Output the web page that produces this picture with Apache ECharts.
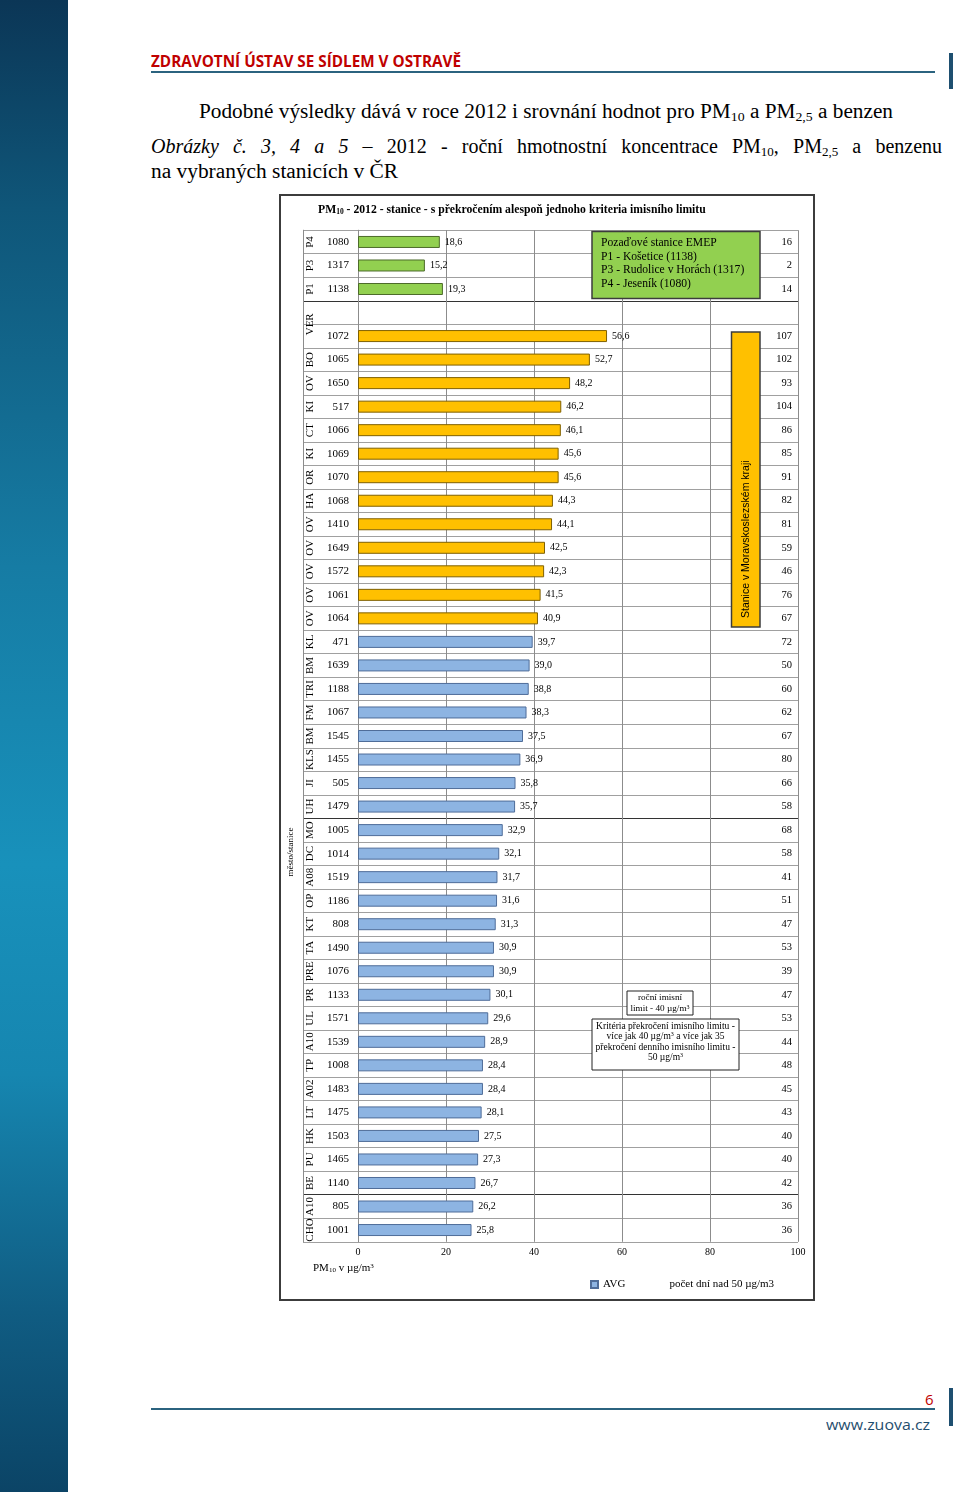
<!DOCTYPE html>
<html><head><meta charset="utf-8">
<script src="https://cdn.jsdelivr.net/npm/echarts@6/dist/echarts.min.js"></script>
<style>
html,body{margin:0;padding:0;width:960px;height:1492px;background:#fff;overflow:hidden;position:relative;font-family:'Liberation Serif','Times New Roman',serif;}
#side{position:absolute;left:0;top:0;width:68px;height:1492px;background:linear-gradient(to bottom,#0b3656 0%,#0f5679 14%,#167ca4 38%,#1891bb 58%,#1686b0 72%,#105c82 88%,#0b4466 100%);}
.abs{position:absolute;white-space:nowrap;transform-origin:left top;}
#hdr{left:151px;top:51px;font-family:'Open Sans',sans-serif;font-weight:bold;font-size:15.5px;line-height:20px;color:#c00000;}
#hline{position:absolute;left:151px;top:71px;width:784px;height:2px;background:#2b637f;}
#fline{position:absolute;left:151px;top:1408px;width:784px;height:2px;background:#2b637f;}
.vbar{position:absolute;left:949px;width:4px;background:#1e4f70;}
#p1{left:199px;top:99px;font-size:20px;line-height:24px;}
#p2{left:151px;top:134px;width:791px;font-size:20px;line-height:24px;text-align:justify;text-align-last:justify;white-space:normal;}
#p3{left:151px;top:159px;font-size:20px;line-height:24px;}
sub{font-size:13px;vertical-align:-3px;line-height:0;}
#pg{left:925px;top:1389px;font-family:'Open Sans',sans-serif;font-size:15px;line-height:20px;color:#c00000;}
#www{left:826px;top:1415px;font-family:'Open Sans',sans-serif;font-size:14px;line-height:20px;color:#1f4e6e;}
#chart{position:absolute;left:279px;top:194px;width:536px;height:1107px;}
</style></head>
<body>
<div id="side"></div>
<div id="hdr" class="abs">ZDRAVOTNÍ ÚSTAV SE SÍDLEM V OSTRAVĚ</div>
<div id="hline"></div>
<div class="vbar" style="top:53px;height:36px;"></div>
<div id="p1" class="abs">Podobné výsledky dává v roce 2012 i srovnání hodnot pro PM<sub>10</sub> a PM<sub>2,5</sub> a benzen</div>
<div id="p2" class="abs"><i>Obrázky č. 3, 4 a 5</i> – 2012 - roční hmotnostní koncentrace PM<sub>10</sub>, PM<sub>2,5</sub> a benzenu</div>
<div id="p3" class="abs">na vybraných stanicích v ČR</div>
<div id="chart"></div>
<div id="pg" class="abs">6</div>
<div id="fline"></div>
<div class="vbar" style="top:1388px;height:38px;"></div>
<div id="www" class="abs">www.zuova.cz</div>
<script>
// ---- data ----
const stationIds = ['1080','1317','1138','','1072','1065','1650','517','1066','1069','1070','1068','1410','1649','1572','1061','1064','471','1639','1188','1067','1545','1455','505','1479','1005','1014','1519','1186','808','1490','1076','1133','1571','1539','1008','1483','1475','1503','1465','1140','805','1001'];
const cityCodes = ['P4','P3','P1','VER','','BO','OV','KI','CT','KI','OR','HA','OV','OV','OV','OV','OV','KL','BM','TRI','FM','BM','KLS','JI','UH','MO','DC','A08','OP','KT','TA','PRE','PR','UL','A10','TP','A02','LT','HK','PU','BE','A10','CHO'];
const avgValues = [18.6,15.2,19.3,null,56.6,52.7,48.2,46.2,46.1,45.6,45.6,44.3,44.1,42.5,42.3,41.5,40.9,39.7,39.0,38.8,38.3,37.5,36.9,35.8,35.7,32.9,32.1,31.7,31.6,31.3,30.9,30.9,30.1,29.6,28.9,28.4,28.4,28.1,27.5,27.3,26.7,26.2,25.8];
const daysOver50 = [16,2,14,null,107,102,93,104,86,85,91,82,81,59,46,76,67,72,50,60,62,67,80,66,58,68,58,41,51,47,53,39,47,53,44,48,45,43,40,40,42,36,36];
const stationGroup = ['bg','bg','bg','','ms','ms','ms','ms','ms','ms','ms','ms','ms','ms','ms','ms','ms','cz','cz','cz','cz','cz','cz','cz','cz','cz','cz','cz','cz','cz','cz','cz','cz','cz','cz','cz','cz','cz','cz','cz','cz','cz','cz'];
const xTicks = [0, 20, 40, 60, 80, 100];
const darkBoundaries = [3, 25, 41];

// ---- page text fitting ----
function fitX(id, w){ const el=document.getElementById(id); el.style.transform=''; const r=el.getBoundingClientRect().width; el.style.transform='scaleX('+(w/r)+')'; }
function fitAll(){ fitX('hdr',310); fitX('p1',694); fitX('p3',247); fitX('www',104); }
fitAll();

// ---- chart ----
const SERIF = "'Liberation Serif','Times New Roman',serif";
const groupFill = {bg:'#92D050', ms:'#FFC000', cz:'#8DB4E2'};
const groupBorder = {bg:'#4d6b2a', ms:'#7f6000', cz:'#4F6D99'};
const lineColors = [];
for (let i = 0; i <= stationIds.length; i++) lineColors.push(darkBoundaries.indexOf(i) >= 0 ? '#333333' : '#a0a0a0');

const gTop = 36.2, gH = 1011.6;
const chart = echarts.init(document.getElementById('chart'));
const option = {
  animation: false,
  textStyle: {fontFamily: SERIF},
  grid: [
    {left: 24, top: gTop, width: 55, height: gH},
    {left: 79, top: gTop, width: 440, height: gH}
  ],
  xAxis: [
    {gridIndex: 1, type: 'value', min: xTicks[0], max: xTicks[xTicks.length-1], interval: 20,
     axisLine: {show: false}, axisTick: {show: false},
     axisLabel: {fontFamily: SERIF, fontSize: 10, color: '#000', margin: 6},
     splitLine: {show: true, lineStyle: {color: '#8c8c8c', width: 1}}},
    {gridIndex: 1, type: 'value', min: 0, max: 100, show: false},
    {gridIndex: 0, type: 'value', min: 0, max: 1, show: false}
  ],
  yAxis: [
    {gridIndex: 1, type: 'category', data: stationIds, inverse: true,
     axisLine: {show: true, lineStyle: {color: '#8c8c8c'}}, axisTick: {show: false},
     axisLabel: {interval: 0, margin: 9, fontFamily: SERIF, fontSize: 11, color: '#000'},
     splitLine: {show: true, interval: 0, lineStyle: {color: lineColors, width: 1}}},
    {gridIndex: 1, type: 'category', data: stationIds, inverse: true, position: 'left', offset: 36,
     axisLine: {show: false}, axisTick: {show: false}, splitLine: {show: false},
     axisLabel: {interval: 0, rotate: 90, margin: 6, fontFamily: SERIF, fontSize: 11, color: '#000',
       formatter: function(v, i){ const c = cityCodes[i]; if (!c) return ''; return c === 'VER' ? '{dn|' + c + '}' : c; },
       rich: {dn: {fontFamily: SERIF, fontSize: 11, color: '#000', padding: [0, 23.5, 0, 0]}}}},
    {gridIndex: 1, type: 'category', data: stationIds, inverse: true, position: 'right',
     axisLine: {show: false}, axisTick: {show: false}, splitLine: {show: false},
     axisLabel: {interval: 0, inside: true, margin: 6, fontFamily: SERIF, fontSize: 10.5, color: '#000',
       formatter: function(v, i){ return daysOver50[i] == null ? '' : String(daysOver50[i]); }}},
    {gridIndex: 0, type: 'category', data: stationIds, inverse: true,
     axisLine: {show: true, lineStyle: {color: '#8c8c8c'}}, axisTick: {show: false}, axisLabel: {show: false},
     splitLine: {show: true, interval: 0, lineStyle: {color: lineColors, width: 1}}}
  ],
  legend: {
    left: 311, top: 1085, padding: 0, itemWidth: 7, itemHeight: 7, itemGap: 32,
    textStyle: {fontFamily: SERIF, fontSize: 11, color: '#000'},
    data: [{name: 'AVG', icon: 'rect'}, {name: 'počet dní nad 50 µg/m3', icon: 'none'}]
  },
  series: [
    {name: 'AVG', type: 'bar', xAxisIndex: 0, yAxisIndex: 0, barWidth: 12,
     itemStyle: {color: groupFill.cz, borderColor: groupBorder.cz, borderWidth: 1},
     label: {show: true, position: 'right', distance: 5, fontFamily: SERIF, fontSize: 10, color: '#000',
       formatter: function(p){ return p.value == null ? '' : Number(p.value).toFixed(1).replace('.', ','); }},
     data: avgValues.map(function(v, i){
       if (v == null) return '-';
       return {value: v, itemStyle: {color: groupFill[stationGroup[i]], borderColor: groupBorder[stationGroup[i]], borderWidth: 1}};
     })},
    {name: 'počet dní nad 50 µg/m3', type: 'line', xAxisIndex: 1, yAxisIndex: 0, silent: true,
     symbol: 'none', showSymbol: false, lineStyle: {opacity: 0, width: 0},
     data: daysOver50.map(function(v){ return v == null ? '-' : v; })}
  ],
  graphic: [
    {type: 'rect', shape: {x: 1, y: 1, width: 534, height: 1105}, style: {fill: 'none', stroke: '#3c3c3c', lineWidth: 2}, z: 100},
    {type: 'text', x: 39, y: 16, style: {text: 'PM{sub|10} - 2012 - stanice - s překročením alespoň jednoho kriteria imisního limitu',
      font: "bold 11.7px " + SERIF, fill: '#000', verticalAlign: 'middle',
      rich: {sub: {font: "bold 7.5px " + SERIF, verticalAlign: 'bottom', padding: [3, 0, 0, 0]}}}},
    {type: 'rect', shape: {x: 313, y: 37.5, width: 168, height: 67}, style: {fill: '#92D050', stroke: '#3c3c3c', lineWidth: 1.5}, z: 50},
    {type: 'text', x: 322, y: 49, z: 51, style: {text: 'Pozaďové stanice EMEP', font: '11.6px ' + SERIF, fill: '#000', verticalAlign: 'middle'}},
    {type: 'text', x: 322, y: 62.5, z: 51, style: {text: 'P1 - Košetice (1138)', font: '11.6px ' + SERIF, fill: '#000', verticalAlign: 'middle'}},
    {type: 'text', x: 322, y: 76, z: 51, style: {text: 'P3 - Rudolice v Horách (1317)', font: '11.6px ' + SERIF, fill: '#000', verticalAlign: 'middle'}},
    {type: 'text', x: 322, y: 90, z: 51, style: {text: 'P4 - Jeseník (1080)', font: '11.6px ' + SERIF, fill: '#000', verticalAlign: 'middle'}},
    {type: 'rect', shape: {x: 452.5, y: 138, width: 28.5, height: 295}, style: {fill: '#FFC000', stroke: '#3c3c3c', lineWidth: 1.5}, z: 50},
    {type: 'text', x: 467, y: 424, rotation: Math.PI / 2, z: 51, style: {text: 'Stanice v Moravskoslezském kraji', font: "10.5px 'Liberation Sans', sans-serif", fill: '#000', align: 'left', verticalAlign: 'middle'}},
    {type: 'rect', shape: {x: 348, y: 797, width: 66, height: 24}, style: {fill: '#fff', stroke: '#222', lineWidth: 1}, z: 50},
    {type: 'text', x: 381, y: 803.5, z: 51, style: {text: 'roční imisní', font: '9.2px ' + SERIF, fill: '#000', align: 'center', verticalAlign: 'middle'}},
    {type: 'text', x: 381, y: 814.5, z: 51, style: {text: 'limit - 40 µg/m{sup|3}', font: '9.2px ' + SERIF, fill: '#000', align: 'center', verticalAlign: 'middle',
      rich: {sup: {font: '6px ' + SERIF, verticalAlign: 'top'}}}},
    {type: 'rect', shape: {x: 313, y: 825, width: 147, height: 51}, style: {fill: '#fff', stroke: '#222', lineWidth: 1}, z: 50},
    {type: 'text', x: 386.5, y: 832, z: 51, style: {text: 'Kritéria překročení imisního limitu -', font: '9.5px ' + SERIF, fill: '#000', align: 'center', verticalAlign: 'middle'}},
    {type: 'text', x: 386.5, y: 842.5, z: 51, style: {text: 'více jak 40 µg/m{sup|3} a více jak 35', font: '9.5px ' + SERIF, fill: '#000', align: 'center', verticalAlign: 'middle',
      rich: {sup: {font: '6px ' + SERIF, verticalAlign: 'top'}}}},
    {type: 'text', x: 386.5, y: 853, z: 51, style: {text: 'překročení denního imisního limitu -', font: '9.5px ' + SERIF, fill: '#000', align: 'center', verticalAlign: 'middle'}},
    {type: 'text', x: 386.5, y: 863.5, z: 51, style: {text: '50 µg/m{sup|3}', font: '9.5px ' + SERIF, fill: '#000', align: 'center', verticalAlign: 'middle',
      rich: {sup: {font: '6px ' + SERIF, verticalAlign: 'top'}}}},
    {type: 'text', x: 12, y: 658, rotation: Math.PI / 2, style: {text: 'město/stanice', font: '9px ' + SERIF, fill: '#000', align: 'center', verticalAlign: 'middle'}},
    {type: 'text', x: 34, y: 1074, style: {text: 'PM{sub|10} v µg/m{sup|3}', font: '11px ' + SERIF, fill: '#000', verticalAlign: 'middle',
      rich: {sub: {font: '7px ' + SERIF, verticalAlign: 'bottom', padding: [3, 0, 0, 0]}, sup: {font: '7px ' + SERIF, verticalAlign: 'top'}}}}
  ]
};
chart.setOption(option);
if (document.fonts && document.fonts.ready) document.fonts.ready.then(fitAll);
</script>
</body></html>
